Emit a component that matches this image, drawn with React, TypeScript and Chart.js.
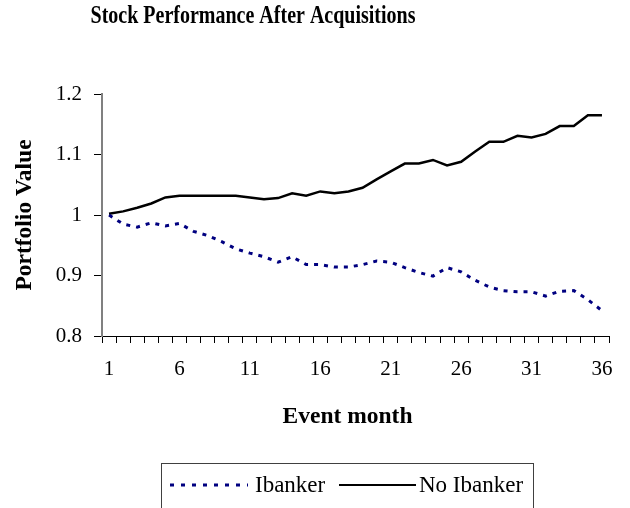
import React, { useEffect, useRef } from "react";
import { Chart, registerables } from "chart.js";

Chart.register(...registerables);

const months = [
  "1", "2", "3", "4", "5", "6", "7", "8", "9", "10", "11", "12",
  "13", "14", "15", "16", "17", "18", "19", "20", "21", "22", "23", "24",
  "25", "26", "27", "28", "29", "30", "31", "32", "33", "34", "35", "36",
];

const ibanker = [
  1.0, 0.985, 0.98, 0.987, 0.982, 0.986, 0.973, 0.966, 0.956, 0.944, 0.937, 0.931,
  0.922, 0.931, 0.918, 0.918, 0.914, 0.914, 0.918, 0.924, 0.922, 0.913, 0.905, 0.899,
  0.913, 0.906, 0.892, 0.881, 0.875, 0.873, 0.873, 0.866, 0.874, 0.875, 0.86, 0.842,
];

const noIbanker = [
  1.002, 1.006, 1.012, 1.019, 1.029, 1.032, 1.032, 1.032, 1.032, 1.032, 1.029, 1.026,
  1.028, 1.036, 1.032, 1.039, 1.036, 1.039, 1.045, 1.059, 1.072, 1.085, 1.085, 1.091,
  1.082, 1.088, 1.105, 1.121, 1.121, 1.131, 1.128, 1.134, 1.147, 1.147, 1.165, 1.165,
];

const seriesNames = ["Ibanker", "No Ibanker"];
const titleText = "Stock Performance After Acquisitions";
const xTitle = "Event month";
const yTitle = "Portfolio Value";
const yMin = 0.8;
const yMax = 1.2;
const yStep = 0.1;

const SERIF = '"Liberation Serif", "Times New Roman", serif';
const NAVY = "#000080";

const decorPlugin = {
  id: "decor",
  afterDraw(chart: any) {
    const ctx = chart.ctx as CanvasRenderingContext2D;
    const area = chart.chartArea;
    ctx.save();
    ctx.fillStyle = "#000";
    ctx.textAlign = "center";
    ctx.textBaseline = "middle";

    // Title (slightly tall, condensed look)
    ctx.save();
    ctx.translate(253, 17);
    ctx.scale(1, 1.22);
    ctx.font = `bold 20px ${SERIF}`;
    ctx.fillText(titleText, 0, 0);
    ctx.restore();

    // X axis title
    ctx.font = `bold 23.5px ${SERIF}`;
    ctx.fillText(xTitle, (area.left + area.right) / 2 - 8, 417);

    // Y axis title
    ctx.save();
    ctx.translate(25, (area.top + area.bottom) / 2);
    ctx.rotate(-Math.PI / 2);
    ctx.fillText(yTitle, 0, 0);
    ctx.restore();

    // Legend box
    ctx.strokeStyle = "#404040";
    ctx.lineWidth = 1;
    ctx.strokeRect(161.5, 463.5, 372, 50);

    const ly = 485;
    ctx.font = `23px ${SERIF}`;
    ctx.textAlign = "left";

    ctx.save();
    ctx.strokeStyle = NAVY;
    ctx.lineWidth = 3;
    ctx.setLineDash([4, 7]);
    ctx.beginPath();
    ctx.moveTo(170, ly);
    ctx.lineTo(248, ly);
    ctx.stroke();
    ctx.restore();
    ctx.fillText(seriesNames[0], 255, ly + 1);

    ctx.save();
    ctx.strokeStyle = "#000";
    ctx.lineWidth = 2;
    ctx.beginPath();
    ctx.moveTo(339, ly);
    ctx.lineTo(416, ly);
    ctx.stroke();
    ctx.restore();
    ctx.fillText(seriesNames[1], 419, ly + 1);

    ctx.restore();
  },
};

export default function App() {
  const ref = useRef<HTMLCanvasElement>(null);

  useEffect(() => {
    if (!ref.current) return;
    const chart = new Chart(ref.current, {
      type: "line",
      data: {
        labels: months,
        datasets: [
          {
            label: seriesNames[0],
            data: ibanker,
            borderColor: NAVY,
            borderWidth: 3,
            borderDash: [4, 6],
            pointRadius: 0,
            tension: 0,
            fill: false,
          },
          {
            label: seriesNames[1],
            data: noIbanker,
            borderColor: "#000",
            borderWidth: 2.5,
            pointRadius: 0,
            tension: 0,
            fill: false,
          },
        ],
      },
      options: {
        animation: false,
        responsive: false,
        maintainAspectRatio: false,
        layout: { padding: { left: 0, top: 94, right: 21, bottom: 0 } },
        plugins: {
          legend: { display: false },
          title: { display: false },
          tooltip: { enabled: false },
        },
        scales: {
          x: {
            type: "category",
            offset: true,
            afterFit: (scale: any) => {
              scale.height = 172;
            },
            border: { display: true, color: "#000", width: 1 },
            grid: {
              offset: true,
              drawOnChartArea: false,
              drawTicks: true,
              tickLength: 7,
              tickColor: "#000",
              lineWidth: 1,
            },
            ticks: {
              autoSkip: false,
              maxRotation: 0,
              minRotation: 0,
              padding: 14,
              color: "#000",
              font: { family: SERIF, size: 21 },
              callback: (_v: any, i: number) => (i % 5 === 0 ? months[i] : ""),
            },
          },
          y: {
            min: yMin,
            max: yMax,
            afterFit: (scale: any) => {
              scale.width = 102;
            },
            border: { display: true, color: "#808080", width: 2 },
            grid: {
              drawOnChartArea: false,
              drawTicks: true,
              tickLength: 8,
              tickColor: "#000",
              lineWidth: 1,
            },
            ticks: {
              stepSize: yStep,
              padding: 12,
              color: "#000",
              font: { family: SERIF, size: 21 },
              callback: (v: any) => String(Math.round(Number(v) * 10) / 10),
            },
          },
        },
      },
      plugins: [decorPlugin],
    });
    return () => chart.destroy();
  }, []);

  return (
    <div style={{ position: "fixed", left: 0, top: 0, width: 630, height: 508, background: "#fff" }}>
      <canvas ref={ref} width={630} height={508} style={{ display: "block" }} />
    </div>
  );
}
